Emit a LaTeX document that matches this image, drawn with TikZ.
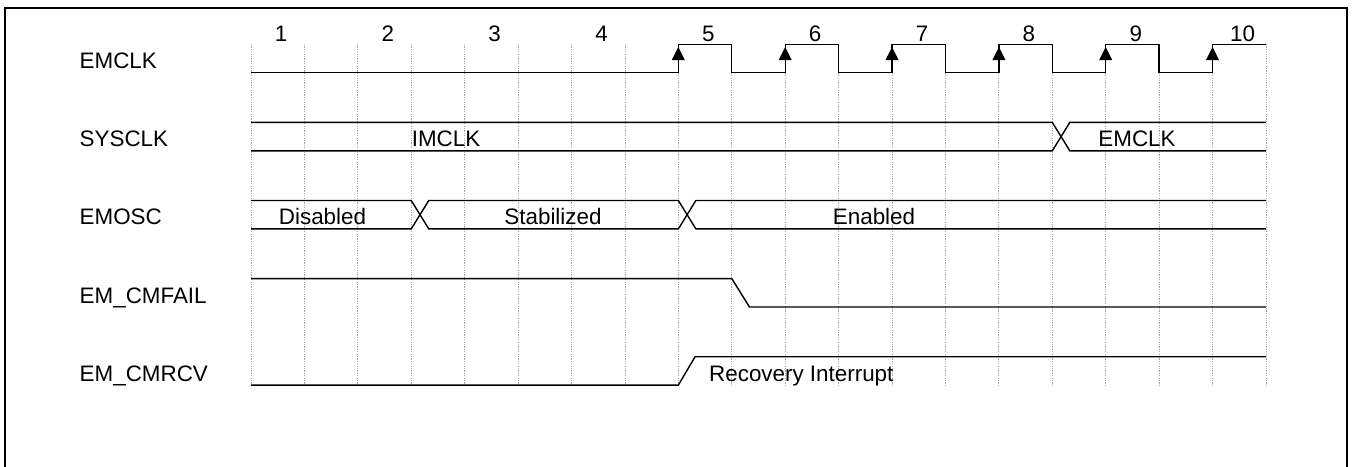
\documentclass[tikz,border=0pt]{standalone}
\usepackage{fontspec}
\setmainfont{Liberation Sans}
\begin{document}
\begin{tikzpicture}[x=1pt,y=-1pt,
  sig/.style={line width=1.4pt,line join=miter},
  gridline/.style={line width=0.8pt,color=black!35,dash pattern=on 1.2pt off 1.2pt},
  frameline/.style={line width=2.4pt},
  lbl/.style={anchor=base west,inner sep=0pt,font=\fontsize{22.4}{26}\selectfont},
  bustext/.style={anchor=base,inner sep=0pt,font=\fontsize{22.4}{26}\selectfont},
  num/.style={anchor=base,inner sep=0pt,font=\fontsize{22.4}{26}\selectfont},
  tipmark/.style={fill=black}]
\newcommand\gx[1]{251+53.42*(#1)}
\useasboundingbox (0,0) rectangle (1354,466);
% frame (bottom edge lies outside the picture)
\draw[frameline] (5.2,470) -- (5.2,8.2) -- (1346.8,8.2) -- (1346.8,470);
% grid
\foreach \k in {0,...,19}
  \draw[gridline] ({\gx{\k}},44) -- ({\gx{\k}},385);
% cycle numbers
\foreach \n in {1,...,10}
  \node[num] (n\n) at ({\gx{2*(\n-1)}+30},41.7) {\n};
% labels
\node[lbl] (lemclk)  at (79.5,68.7)  {EMCLK};
\node[lbl] (lsysclk) at (79.5,146.8) {SYSCLK};
\node[lbl] (lemosc)  at (79.5,224.9) {EMOSC};
\node[lbl] (lfail)   at (79.5,303.0) {EM\_CMFAIL};
\node[lbl] (lrcv)    at (79.5,381.1) {EM\_CMRCV};
% EMCLK
\draw[sig] ({\gx{0}},72.7) -- ({\gx{8}},72.7)
  -- ({\gx{8}},44.3) -- ({\gx{9}},44.3) -- ({\gx{9}},72.7) -- ({\gx{10}},72.7)
  -- ({\gx{10}},44.3) -- ({\gx{11}},44.3) -- ({\gx{11}},72.7) -- ({\gx{12}},72.7)
  -- ({\gx{12}},44.3) -- ({\gx{13}},44.3) -- ({\gx{13}},72.7) -- ({\gx{14}},72.7)
  -- ({\gx{14}},44.3) -- ({\gx{15}},44.3) -- ({\gx{15}},72.7) -- ({\gx{16}},72.7)
  -- ({\gx{16}},44.3) -- ({\gx{17}},44.3) -- ({\gx{17}},72.7) -- ({\gx{18}},72.7)
  -- ({\gx{18}},44.3) -- ({\gx{19}},44.3);
\foreach \k in {8,10,12,14,16,18}
  \fill[tipmark] ({\gx{\k}},47) -- ({\gx{\k}-6.5},60) -- ({\gx{\k}+6.5},60) -- cycle;
% SYSCLK
\draw[sig] ({\gx{0}},122.4) -- ({\gx{15}},122.4) -- ({\gx{15}+17.5},150.8) -- ({\gx{19}},150.8);
\draw[sig] ({\gx{0}},150.8) -- ({\gx{15}},150.8) -- ({\gx{15}+17.5},122.4) -- ({\gx{19}},122.4);
\node[bustext] (timclk) at (446,146.8) {IMCLK};
\node[bustext] (temclk) at (1137,146.8) {EMCLK};
% EMOSC
\draw[sig] ({\gx{0}},200.5) -- ({\gx{3}},200.5) -- ({\gx{3}+17.5},228.9) -- ({\gx{8}},228.9)
  -- ({\gx{8}+17.5},200.5) -- ({\gx{19}},200.5);
\draw[sig] ({\gx{0}},228.9) -- ({\gx{3}},228.9) -- ({\gx{3}+17.5},200.5) -- ({\gx{8}},200.5)
  -- ({\gx{8}+17.5},228.9) -- ({\gx{19}},228.9);
\node[bustext] (tdis) at (322.5,224.9) {Disabled};
\node[bustext] (tstab) at (553,224.9) {Stabilized};
\node[bustext] (tena) at (874,224.9) {Enabled};
% EM_CMFAIL
\draw[sig] ({\gx{0}},278.6) -- ({\gx{9}},278.6) -- ({\gx{9}+17.7},307.0) -- ({\gx{19}},307.0);
% EM_CMRCV
\draw[sig] ({\gx{0}},385.1) -- ({\gx{8}},385.1) -- ({\gx{8}+16.7},356.7) -- ({\gx{19}},356.7);
\node[bustext] (trec) at (801.3,381.1) {Recovery Interrupt};
\end{tikzpicture}
\end{document}
